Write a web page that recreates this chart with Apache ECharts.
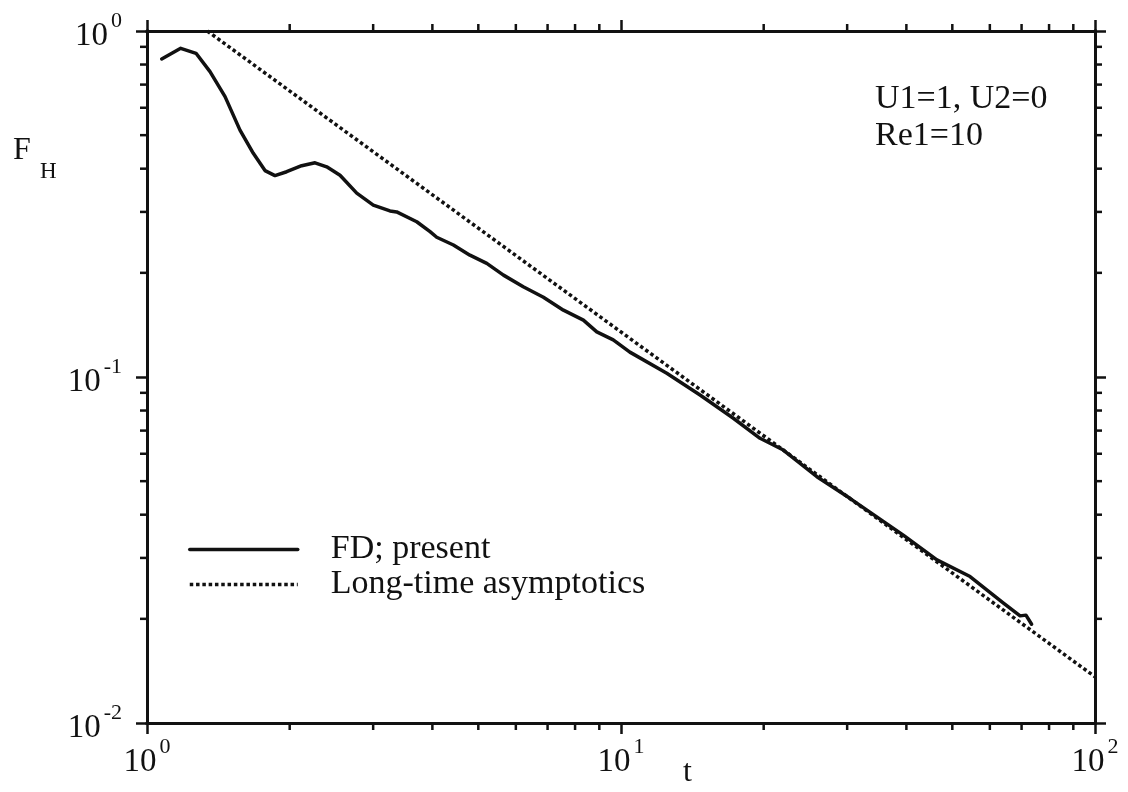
<!DOCTYPE html>
<html>
<head>
<meta charset="utf-8">
<script src="https://cdn.jsdelivr.net/npm/echarts@6/dist/echarts.min.js"></script>
<style>
html,body{margin:0;padding:0;background:#fff;}
#c{width:1128px;height:792px;}
</style>
</head>
<body>
<div id="c"></div>
<script>
// ---- data ----
const fdTime = [1.074,1.178,1.269,1.358,1.461,1.571,1.676,1.774,1.862,1.971,2.12,2.262,2.394,2.554,2.77,3.002,3.255,3.363,3.707,3.955,4.085,4.43,4.80,5.21,5.65,6.22,6.86,7.56,8.33,8.89,9.63,10.44,12.49,14.68,17.26,19.65,22.0,25.9,30.4,39.4,46.4,54.5,64.1,69.5,71.5,73.5];
const fdForce = [0.830,0.891,0.862,0.763,0.646,0.517,0.443,0.395,0.382,0.392,0.408,0.416,0.405,0.383,0.340,0.314,0.302,0.300,0.281,0.263,0.2535,0.2407,0.225,0.213,0.197,0.1824,0.170,0.156,0.146,0.135,0.128,0.118,0.1025,0.0887,0.076,0.0665,0.0615,0.0515,0.0446,0.0349,0.0296,0.0265,0.0222,0.0204,0.0205,0.0193];
const asymTime = [1.34, 100];
const asymForce = [1.0, 0.0136];
const seriesNames = ['FD; present', 'Long-time asymptotics'];
const xMinorTicks = [2,3,4,5,6,7,8,9,20,30,40,50,60,70,80,90];
const yMinorTicks = [0.02,0.03,0.04,0.05,0.06,0.07,0.08,0.09,0.2,0.3,0.4,0.5,0.6,0.7,0.8,0.9];
const xRange = [1, 100];
const yRange = [0.01, 1];
const annotation = ['U1=1, U2=0', 'Re1=10'];
const xTitle = 't';
const yTitleMain = 'F';
const yTitleSub = 'H';

const FONT = 'Liberation Serif';
const INK = '#111';

const chart = echarts.init(document.getElementById('c'), null, {renderer: 'canvas'});

function expLabel(v) {
  const e = Math.round(Math.log10(v));
  return '{b|10}{s|' + e + '}';
}
const labelRich = {
  b: {fontFamily: FONT, fontSize: 33, lineHeight: 52, color: INK},
  s: {fontFamily: FONT, fontSize: 22, lineHeight: 22, color: INK, verticalAlign: 'top', padding: [0,0,0,3]}
};

const axisLineStyle = {color: INK, width: 3, cap: 'square'};
const majorTick = {show: true, length: 11, lineStyle: {color: INK, width: 2.5}};

function minorTickSeries(kind) {
  const data = kind === 'x' ? xMinorTicks.map(v => [v, yRange[0]]) : yMinorTicks.map(v => [xRange[0], v]);
  return {
    type: 'custom',
    silent: true,
    clip: false,
    z: 5,
    data: data,
    renderItem: function (params, api) {
      const st = {stroke: INK, lineWidth: 2.5};
      if (kind === 'x') {
        const v = api.value(0);
        const a = api.coord([v, yRange[0]]);
        const b = api.coord([v, yRange[1]]);
        return {type: 'group', children: [
          {type: 'line', shape: {x1: a[0], y1: a[1], x2: a[0], y2: a[1] + 7}, style: st},
          {type: 'line', shape: {x1: b[0], y1: b[1], x2: b[0], y2: b[1] - 7}, style: st}
        ]};
      } else {
        const v = api.value(1);
        const a = api.coord([xRange[0], v]);
        const b = api.coord([xRange[1], v]);
        return {type: 'group', children: [
          {type: 'line', shape: {x1: a[0], y1: a[1], x2: a[0] - 7, y2: a[1]}, style: st},
          {type: 'line', shape: {x1: b[0], y1: b[1], x2: b[0] + 7, y2: b[1]}, style: st}
        ]};
      }
    }
  };
}

const option = {
  backgroundColor: '#fff',
  animation: false,
  grid: {left: 147, right: 33, top: 31, bottom: 69, containLabel: false},
  legend: {
    orient: 'vertical',
    left: 188,
    top: 532,
    padding: 0,
    itemWidth: 108,
    itemHeight: 35,
    itemGap: 0,
    data: seriesNames,
    itemStyle: {opacity: 0},
    lineStyle: {width: 3.5},
    textStyle: {fontFamily: FONT, fontSize: 34, color: INK, lineHeight: 35, padding: [0,0,0,28]}
  },
  xAxis: [
    {type: 'log', logBase: 10, min: xRange[0], max: xRange[1], position: 'bottom',
     axisLine: {show: true, lineStyle: axisLineStyle}, axisTick: majorTick, splitLine: {show: false},
     axisLabel: {formatter: expLabel, rich: labelRich, margin: 13}},
    {type: 'log', logBase: 10, min: xRange[0], max: xRange[1], position: 'top',
     axisLine: {show: true, lineStyle: axisLineStyle}, axisTick: majorTick, splitLine: {show: false},
     axisLabel: {show: false}}
  ],
  yAxis: [
    {type: 'log', logBase: 10, min: yRange[0], max: yRange[1], position: 'left',
     axisLine: {show: true, lineStyle: axisLineStyle}, axisTick: majorTick, splitLine: {show: false},
     axisLabel: {formatter: expLabel, rich: labelRich, margin: 25, padding: [10,0,0,0]}},
    {type: 'log', logBase: 10, min: yRange[0], max: yRange[1], position: 'right',
     axisLine: {show: true, lineStyle: axisLineStyle}, axisTick: majorTick, splitLine: {show: false},
     axisLabel: {show: false}}
  ],
  series: [
    {
      name: seriesNames[0],
      type: 'line',
      data: fdTime.map((t, i) => [t, fdForce[i]]),
      showSymbol: false,
      symbol: 'none',
      smooth: false,
      lineStyle: {color: INK, width: 3.5, type: 'solid', join: 'round', cap: 'round'},
      itemStyle: {color: INK},
      z: 3
    },
    {
      name: seriesNames[1],
      type: 'line',
      data: asymTime.map((t, i) => [t, asymForce[i]]),
      showSymbol: false,
      symbol: 'none',
      lineStyle: {color: INK, width: 3.5, type: [3.5, 2.8]},
      itemStyle: {color: INK},
      z: 2
    },
    minorTickSeries('x'),
    minorTickSeries('y')
  ],
  graphic: [
    {type: 'text', left: 875, top: 81,
     style: {text: annotation.join('\n'), font: '34px "' + FONT + '"', lineHeight: 37, fill: INK}},
    {type: 'text', left: 13, top: 135,
     style: {text: yTitleMain, font: '32px "' + FONT + '"', fill: INK}},
    {type: 'text', left: 40, top: 160,
     style: {text: yTitleSub, font: '23px "' + FONT + '"', fill: INK}},
    {type: 'text', left: 683, top: 757,
     style: {text: xTitle, font: '32px "' + FONT + '"', fill: INK}}
  ]
};
chart.setOption(option);
</script>
</body>
</html>
